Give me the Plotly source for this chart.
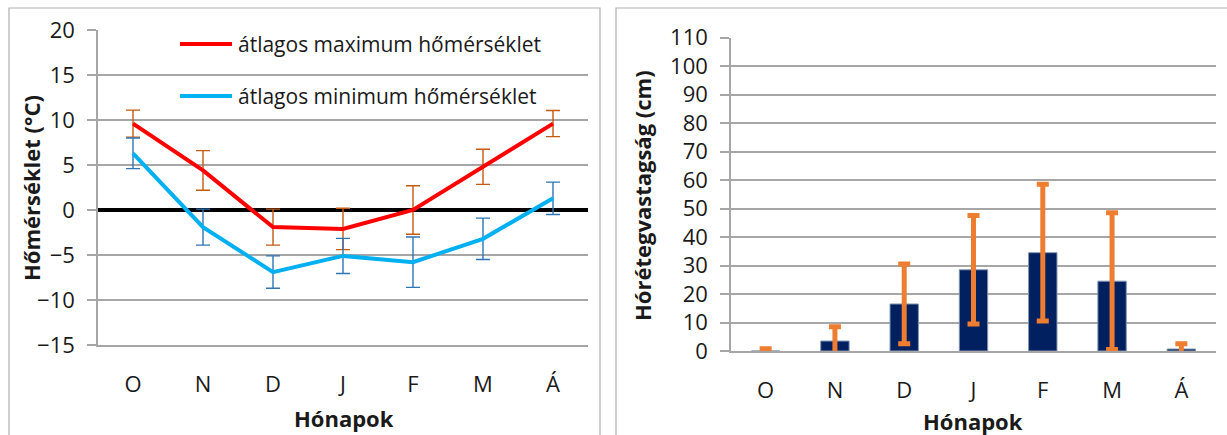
"""Havi hőmérséklet és hóréteg-vastagság, két panel (Plotly)."""

import plotly.graph_objects as go

W, H = 1227, 435

months = ["O", "N", "D", "J", "F", "M", "Á"]

# bal panel: átlagos hőmérsékletek (°C) és szórásuk
max_name = "átlagos maximum hőmérséklet"
max_temp = [9.6, 4.4, -1.9, -2.1, 0.0, 4.8, 9.6]
max_err = [1.5, 2.2, 2.0, 2.3, 2.7, 1.95, 1.45]
min_name = "átlagos minimum hőmérséklet"
min_temp = [6.3, -1.9, -6.9, -5.1, -5.8, -3.2, 1.3]
min_err = [1.7, 2.0, 1.8, 1.95, 2.8, 2.3, 1.8]

# jobb panel: hóréteg-vastagság (cm) és szórása
snow = [0.0, 3.5, 16.5, 28.5, 34.5, 24.5, 0.7]
snow_err = [0.8, 5.0, 14.0, 19.0, 24.0, 24.0, 1.8]

FONT = "'Open Sans', 'Noto Sans', sans-serif"
TEXT = "#1a1a1a"
GRID = "#a6a6a6"


def px_x(p):
    return p / W


def px_y(p):
    return 1 - p / H


fig = go.Figure()

fig.add_trace(
    go.Scatter(
        x=months, y=max_temp, mode="lines", name=max_name,
        line=dict(color="#ff0000", width=4),
        error_y=dict(type="data", array=max_err, color="#c55a11", thickness=1.4, width=7),
        xaxis="x", yaxis="y", showlegend=False,
    )
)
fig.add_trace(
    go.Scatter(
        x=months, y=min_temp, mode="lines", name=min_name,
        line=dict(color="#00b0f0", width=4),
        error_y=dict(type="data", array=min_err, color="#2e75b6", thickness=1.4, width=7),
        xaxis="x", yaxis="y", showlegend=False,
    )
)
fig.add_trace(
    go.Bar(
        x=months, y=snow,
        marker=dict(color="#002060", line=dict(color="#8497b0", width=1)),
        error_y=dict(type="data", array=snow_err, color="#ed7d31", thickness=5, width=6),
        xaxis="x2", yaxis="y2", showlegend=False,
    )
)

# kézzel rajzolt jelmagyarázat (hosszú vonalminta)
legend = [(max_name, "#ff0000", 44), (min_name, "#00b0f0", 96)]
for name, color, ypx in legend:
    fig.add_shape(
        type="line", xref="paper", yref="paper",
        x0=px_x(180), x1=px_x(232), y0=px_y(ypx), y1=px_y(ypx),
        line=dict(color=color, width=4),
    )
    fig.add_annotation(
        text=name, xref="paper", yref="paper", x=px_x(236), y=px_y(ypx),
        xanchor="left", yanchor="middle", showarrow=False,
        font=dict(family=FONT, size=21, color=TEXT),
    )

# panel keretek
for x0, x1 in [(9, 600), (616, 1240)]:
    fig.add_shape(
        type="rect", xref="paper", yref="paper",
        x0=px_x(x0), x1=px_x(x1), y0=px_y(445), y1=px_y(8),
        line=dict(color="#b0b0b0", width=1.2), fillcolor="rgba(0,0,0,0)", layer="below",
    )

# tengelycímek
titles = [
    ("Hőmérséklet (°C)", 31, 188, -90),
    ("Hónapok", 344, 418, 0),
    ("Hórétegvastagság (cm)", 642, 196, -90),
    ("Hónapok", 973, 421, 0),
]
for text, xp, yp, ang in titles:
    fig.add_annotation(
        text=f"<b>{text}</b>", xref="paper", yref="paper", x=px_x(xp), y=px_y(yp),
        xanchor="center", yanchor="middle", textangle=ang, showarrow=False,
        font=dict(family=FONT, size=22, color=TEXT),
    )

tick_font = dict(family=FONT, size=22, color=TEXT)
x_common = dict(
    type="category", range=[-0.5, 6.5], showgrid=False, zeroline=False,
    showline=True, linecolor=GRID, linewidth=1.5, ticks="", tickfont=tick_font,
    ticklabelstandoff=19, fixedrange=True, automargin=False,
)
y_common = dict(
    showgrid=True, gridcolor=GRID, gridwidth=1.5, showline=True, linecolor=GRID,
    linewidth=1.5, ticks="outside", ticklen=9, tickcolor=GRID, tickwidth=1.5,
    tickfont=tick_font, ticklabelstandoff=8, fixedrange=True, automargin=False,
)

fig.update_layout(
    width=W, height=H,
    margin=dict(l=0, r=0, t=0, b=0, autoexpand=False),
    paper_bgcolor="white", plot_bgcolor="white",
    font=dict(family=FONT),
    bargap=0.59,
    xaxis=dict(domain=[px_x(98), px_x(588)], anchor="y", **x_common),
    yaxis=dict(
        domain=[px_y(345), px_y(30)], anchor="x", range=[-15, 20], dtick=5,
        zeroline=True, zerolinecolor="black", zerolinewidth=4, **y_common,
    ),
    xaxis2=dict(domain=[px_x(731), px_x(1216)], anchor="y2", **x_common),
    yaxis2=dict(
        domain=[px_y(351), px_y(37.5)], anchor="x2", range=[0, 110], dtick=10,
        zeroline=False, **y_common,
    ),
)

# a böngésző alapértelmezett 8 px-es body margóját eltüntetjük
fig.write_html(
    "out.html",
    config={"displayModeBar": False},
    post_script="document.body.style.margin='0';",
)
